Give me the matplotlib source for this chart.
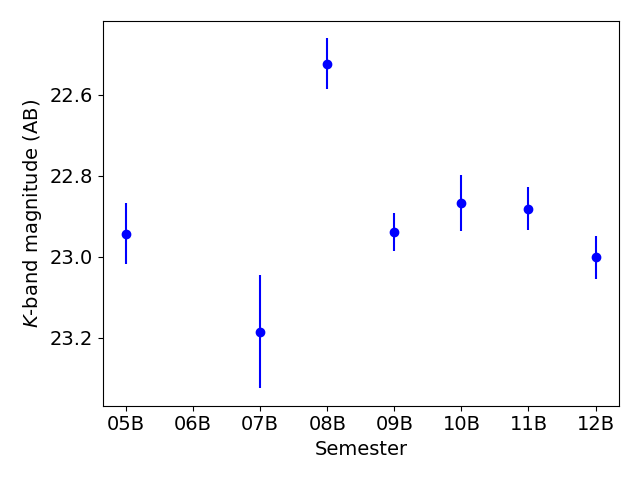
import numpy as np
import matplotlib
matplotlib.use('Agg')
import matplotlib.pyplot as plt

# K-band magnitudes per semester (06B has no measurement)
semesters = ['05B', '06B', '07B', '08B', '09B', '10B', '11B', '12B']
obs_idx = [0, 2, 3, 4, 5, 6, 7]
mag = [22.943, 23.185, 22.523, 22.938, 22.867, 22.881, 23.002]
mag_err = [0.075, 0.140, 0.062, 0.047, 0.070, 0.052, 0.052]

plt.rcParams['font.size'] = 14

fig, ax = plt.subplots(figsize=(6.4, 4.8), dpi=100)
ax.errorbar(obs_idx, mag, yerr=mag_err, fmt='o', color='b')

ax.set_xticks(np.arange(len(semesters)))
ax.set_xticklabels(semesters)
ax.set_yticks([22.6, 22.8, 23.0, 23.2])
ax.invert_yaxis()
ax.set_xlabel('Semester')
ax.set_ylabel('$K$-band magnitude (AB)')

fig.tight_layout()
fig.savefig('out.png')
